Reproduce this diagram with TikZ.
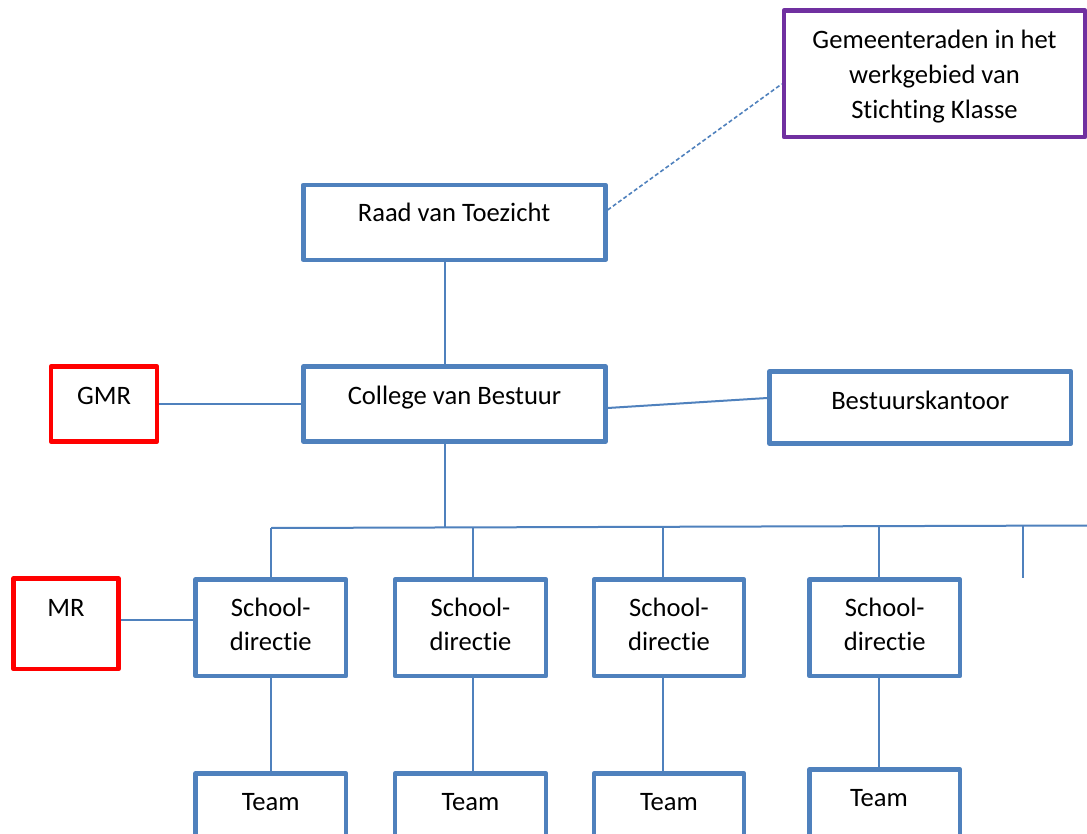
\documentclass[tikz,border=0pt]{standalone}
\usepackage{fontspec}
\setmainfont{Carlito}[RawFeature={-liga;-clig;-calt;-dlig}]
\definecolor{boxblue}{HTML}{4F81BD}
\definecolor{purp}{HTML}{7030A0}
\definecolor{redb}{HTML}{FF0000}
\begin{document}
\begin{tikzpicture}[x=1pt,y=-1pt,
  box/.style={draw=boxblue, line width=4.5pt, line join=round, inner sep=0pt, fill=none},
  con/.style={draw=boxblue, line width=2pt},
  txt/.style={font=\fontsize{26.6}{35}\selectfont, inner sep=0pt, anchor=base, text=black}]
\useasboundingbox (0,0) rectangle (1087,834);
\clip (0,0) rectangle (1087,834);
\fill[white] (0,0) rectangle (1087,834);
% boxes
\node[box, draw=purp, minimum width=301pt, minimum height=126.5pt] (gem) at (934.5,73.75) {};
\node[box, minimum width=302pt, minimum height=75pt] (raad) at (454.4,222.4) {};
\node[box, minimum width=302pt, minimum height=75pt] (cvb) at (454.5,404) {};
\node[box, draw=redb, minimum width=106pt, minimum height=75pt] (gmr) at (104,404) {};
\node[box, minimum width=301.5pt, minimum height=72pt] (best) at (920.25,407.5) {};
\node[box, draw=redb, minimum width=105pt, minimum height=90.5pt] (mr) at (66,623.75) {};
\node[box, minimum width=150.5pt, minimum height=96.5pt] (s1) at (270.75,627.75) {};
\node[box, minimum width=151pt, minimum height=96.5pt] (s2) at (470.5,627.75) {};
\node[box, minimum width=150pt, minimum height=96.5pt] (s3) at (669,627.75) {};
\node[box, minimum width=150.5pt, minimum height=96.5pt] (s4) at (884.75,627.75) {};
\node[box, minimum width=150.5pt, minimum height=100pt] (t1) at (270.75,823.5) {};
\node[box, minimum width=151pt, minimum height=100pt] (t2) at (470.5,823.5) {};
\node[box, minimum width=150pt, minimum height=100pt] (t3) at (669,823.5) {};
\node[box, minimum width=150.5pt, minimum height=100pt] (t4) at (884.75,819.5) {};
% texts
\node[txt] (gem1) at (934.5,48.3) {Gemeenteraden in het};
\node[txt] (gem2) at (934.5,83.3) {werkgebied van};
\node[txt] (gem3) at (934.5,118.3) {Stichting Klasse};
\node[txt] (raadt) at (454,222) {Raad van Toezicht};
\node[txt] (cvbt) at (454.5,404) {College van Bestuur};
\node[txt] (gmrt) at (104,404) {GMR};
\node[txt] (bestt) at (920.25,409) {Bestuurskantoor};
\node[txt] (mrt) at (66,616) {MR};
\foreach \s/\x in {s1/270.75, s2/470.5, s3/669, s4/884.75}{
  \node[txt] (\s a) at (\x,616) {School-};
  \node[txt] (\s b) at (\x,650.7) {directie};
}
\node[txt] (t1t) at (270.75,810) {Team};
\node[txt] (t2t) at (470.5,810) {Team};
\node[txt] (t3t) at (669,810) {Team};
\node[txt] (t4t) at (879,806.7) {Team};
% coordinates
\coordinate (trunk) at (445,0);
\coordinate (busL) at (271,528);
\coordinate (busR) at (1087,525.5);
\coordinate (d1) at (271,528);
\coordinate (d2) at (472.7,527.3);
\coordinate (d3) at (663,526.8);
\coordinate (d4) at (879,526.2);
\coordinate (d5) at (1023,525.8);
\coordinate (d5e) at (1023,578);
% connectors
\draw[con, dashed, dash pattern=on 4pt off 2.5pt, line width=1.6pt] ([yshift=12.4pt]raad.east) -- ([yshift=-10.25pt]gem.west);
\draw[con] (raad.south -| trunk) -- (cvb.north -| trunk);
\draw[con] (cvb.south -| trunk) -- (trunk |- busL);
\draw[con] (gmr.east) -- (cvb.west);
\draw[con] ([yshift=-4pt]cvb.east) -- ([yshift=9.5pt]best.west);
\draw[con] (busL) -- (busR);
\draw[con] (d1) -- (d1 |- s1.north);
\draw[con] (d2) -- (d2 |- s2.north);
\draw[con] (d3) -- (d3 |- s3.north);
\draw[con] (d4) -- (d4 |- s4.north);
\draw[con] (d5) -- (d5e);
\draw[con] ([yshift=3.75pt]mr.east) -- ([yshift=3.75pt]mr.east -| s1.west);
\draw[con] (s1.south -| d1) -- (t1.north -| d1);
\draw[con] (s2.south -| d2) -- (t2.north -| d2);
\draw[con] (s3.south -| d3) -- (t3.north -| d3);
\draw[con] (s4.south -| d4) -- ([yshift=-3.5pt]t4.north -| d4);
\end{tikzpicture}
\end{document}
